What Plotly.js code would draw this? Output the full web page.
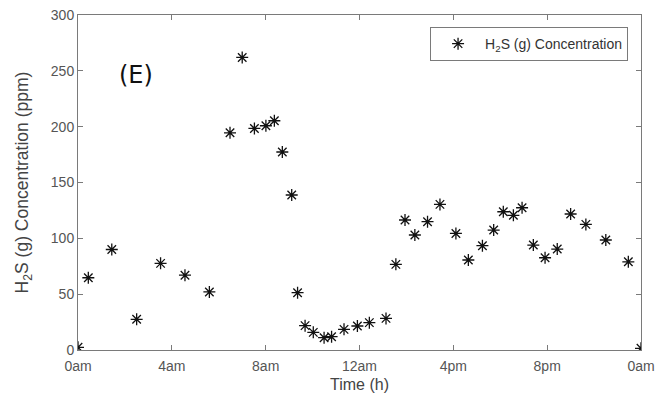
<!DOCTYPE html>
<html>
<head>
<meta charset="utf-8">
<script src="https://cdn.plot.ly/plotly-3.0.1.min.js"></script>
<style>html,body{margin:0;padding:0;background:#fff;}#chart{width:659px;height:397px;}</style>
</head>
<body>
<div id="chart"></div>
<script>
var timeHours = [0, 0.44, 1.44, 2.5, 3.52, 4.56, 5.6, 6.48, 7.0, 7.52, 8.01, 8.37, 8.71, 9.11, 9.36, 9.68, 10.03, 10.49, 10.81, 11.34, 11.91, 12.42, 13.13, 13.55, 13.94, 14.36, 14.9, 15.43, 16.11, 16.64, 17.24, 17.72, 18.13, 18.56, 18.93, 19.41, 19.91, 20.43, 21.0, 21.65, 22.5, 23.46, 24];
var h2sPpm = [2.4, 64.7, 90, 27.5, 77.6, 67, 52, 194.5, 262, 198.4, 200.8, 205.3, 177.3, 138.8, 51.3, 21.8, 15.8, 11, 11.9, 18.5, 21.5, 24.5, 28.3, 76.7, 116.4, 103, 114.9, 130.4, 104.4, 80.6, 93.4, 107.4, 123.8, 120.6, 127.4, 94, 82.6, 90.4, 121.8, 112.5, 98.5, 79, 1.5];
var xTickVals = [0, 4, 8, 12, 16, 20, 24];
var xTickText = ['0am', '4am', '8am', '12am', '4pm', '8pm', '0am'];
var yTickVals = [0, 50, 100, 150, 200, 250, 300];

var trace = {
  x: timeHours,
  y: h2sPpm,
  mode: 'markers',
  type: 'scatter',
  name: 'H<sub>2</sub>S (g) Concentration',
  marker: {symbol: 'asterisk-open', size: 10, color: '#111', line: {color: '#111', width: 1.3}}
};

var FONT = 'Liberation Sans, Arial, sans-serif';
var axisCommon = {
  showline: true, linecolor: '#7a7a7a', linewidth: 1, mirror: 'ticks',
  ticks: 'inside', ticklen: 5, tickcolor: '#7a7a7a', tickwidth: 1,
  showgrid: false, zeroline: false,
  tickfont: {family: FONT, size: 14, color: '#555'}
};

var layout = {
  width: 659, height: 397,
  margin: {l: 78, r: 18, t: 15, b: 47},
  paper_bgcolor: '#fff', plot_bgcolor: '#fff',
  showlegend: true,
  legend: {
    x: 0.977, y: 0.964, xanchor: 'right', yanchor: 'top',
    bordercolor: '#7a7a7a', borderwidth: 1, bgcolor: '#fff',
    itemwidth: 44,
    font: {family: FONT, size: 14, color: '#333'}
  },
  xaxis: Object.assign({}, axisCommon, {
    range: [0, 24], tickvals: xTickVals, ticktext: xTickText,
    ticklabelstandoff: 3,
    title: {text: 'Time (h)', standoff: 6, font: {family: FONT, size: 16, color: '#444'}}
  }),
  yaxis: Object.assign({}, axisCommon, {
    range: [0, 300], tickvals: yTickVals,
    title: {text: 'H<sub>2</sub>S (g) Concentration (ppm)', standoff: 17, font: {family: FONT, size: 17.5, color: '#444'}}
  }),
  annotations: [{
    x: 2.47, y: 246, xref: 'x', yref: 'y', text: '(E)', showarrow: false,
    font: {family: 'DejaVu Sans, sans-serif', size: 24, color: '#111'}
  }]
};

Plotly.newPlot('chart', [trace], layout, {displayModeBar: false, staticPlot: true});
</script>
</body>
</html>
